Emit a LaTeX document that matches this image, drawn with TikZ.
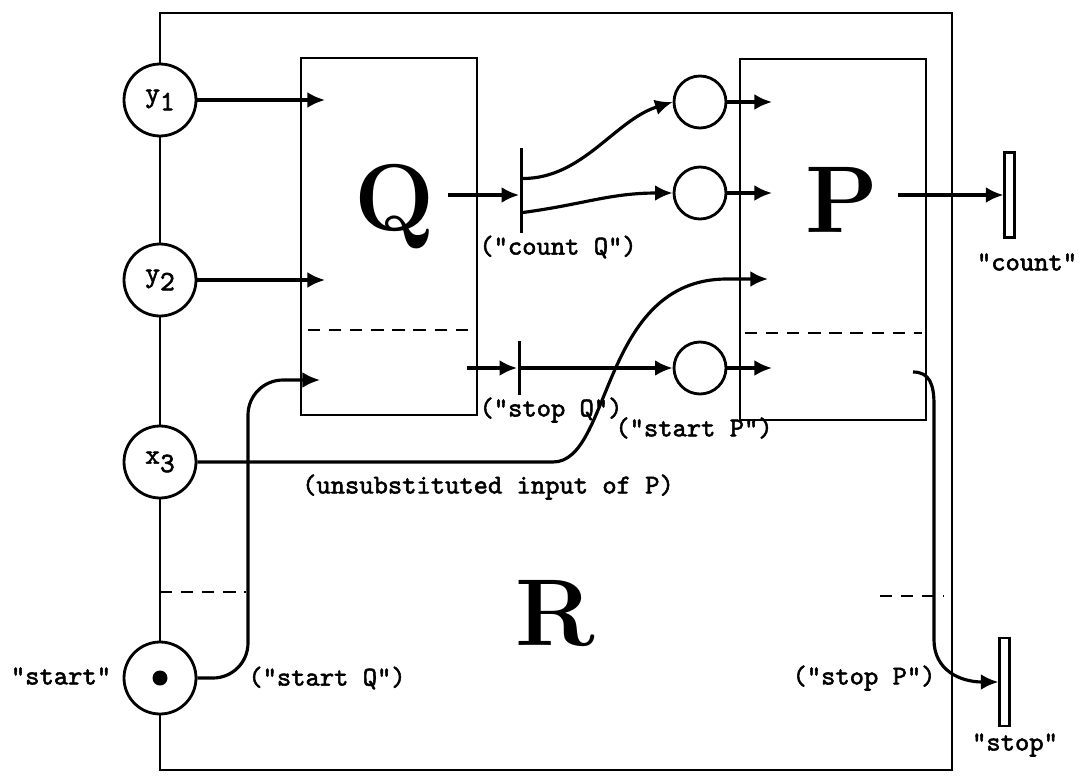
\documentclass[tikz,border=0pt]{standalone}
\usepackage{fontspec}
\setmonofont{lmmono10-regular.otf}[BoldFont=lmmono10-regular.otf, BoldFeatures={FakeBold=2}]
\usepackage{tikz}
\usetikzlibrary{arrows.meta}
\newcommand{\sub}[2]{#1\raisebox{-.7ex}{#2}}

\begin{document}
\begin{tikzpicture}[
      x=0.02cm, y=-0.02cm,
      frame/.style={line width=1.6pt},
      box/.style={draw, rectangle, line width=1.1pt, inner sep=0pt},
      var/.style={circle, draw, line width=1.6pt, minimum size=1.44cm, inner sep=0pt, font=\ttfamily\bfseries\fontsize{16}{18}\selectfont},
      place/.style={circle, draw, line width=1.6pt, minimum size=1.04cm, inner sep=0pt},
      tbar/.style={rectangle, fill=black, inner sep=0pt, minimum width=0.06cm},
      sink/.style={rectangle, draw, line width=1.2pt, inner sep=0pt, minimum width=0.2cm},
      lbl/.style={inner sep=0pt, font=\ttfamily\bfseries\fontsize{15.5}{18}\selectfont},
      big/.style={anchor=base, inner sep=0pt, font=\bfseries\fontsize{54}{60}\selectfont},
      arr/.style={-{Latex[length=10pt,width=9pt]}, line width=1.8pt},
      part/.style={line width=1.1pt, dash pattern=on 7pt off 5pt}
    ]
      \useasboundingbox (0,0) rectangle (1081,777);
      \node[var] (y1) at (160,100) {\sub{y}{1}};
      \node[var] (y2) at (160,280) {\sub{y}{2}};
      \node[var] (x3) at (160,462) {\sub{x}{3}};
      \node[var] (start) at (160,678) {};
      \fill (start) circle (0.15cm);
      \node[box, minimum width=3.52cm, minimum height=7.14cm] (qbox) at (389,236.5) {};
      \node[box, minimum width=3.72cm, minimum height=7.22cm] (pbox) at (833,239.5) {};
      \node[big] (qname) at (395,230) {Q};
      \node[big] (pname) at (842,232) {P};
      \node[big] (rname) at (555,645) {R};
      \node[tbar, minimum height=1.7cm] (cq) at (521,190.5) {};
      \node[tbar, minimum height=1.1cm] (sq) at (519,368) {};
      \node[place] (c1) at (700,102) {};
      \node[place] (c2) at (700,193) {};
      \node[place] (c3) at (700,368) {};
      \node[sink, minimum height=1.7cm] (count) at (1009.5,195) {};
      \node[sink, minimum height=1.76cm] (stop) at (1004.5,682) {};
      \coordinate (qin1) at (325,100);
      \coordinate (qin2) at (325,280);
      \coordinate (qin3) at (320,380);
      \coordinate (qout1) at (448,195);
      \coordinate (qout2) at (467,368);
      \coordinate (pin1) at (772,102);
      \coordinate (pin2) at (772,193);
      \coordinate (pin3) at (768,279);
      \coordinate (pin4) at (772,368);
      \coordinate (pout1) at (898,195);
      \coordinate (pout2) at (913,372);
      \draw[frame] (y1.north) -- (160,13) -- (952,13) -- (952,770) -- (160,770) -- (start.south);
      \draw[frame] (y1.south) -- (y2.north);
      \draw[frame] (y2.south) -- (x3.north);
      \draw[frame] (x3.south) -- (start.north);
      \draw[part] (308,330) -- (470,330);
      \draw[part] (745,333) -- (922,333);
      \draw[part] (160,592) -- (246,592);
      \draw[part] (880,596) -- (944,596);
      \draw[arr] (y1) -- (qin1);
      \draw[arr] (y2) -- (qin2);
      \draw[arr, rounded corners=0.7cm] (start) -| (248,380) -- (qin3);
      \draw[arr] (qout1) -- (qout1 -| cq.west);
      \draw[arr] (cq.east) ++(0,-12) .. controls +(60,0) and (615,120) .. (c1.west);
      \draw[arr] (cq.east) ++(0,22) .. controls +(60,-8) and (610,193) .. (c2.west);
      \draw[arr] (qout2) -- (qout2 -| sq.west);
      \draw[arr] (sq) -- (c3);
      \draw[arr] (c1) -- (pin1);
      \draw[arr] (c2) -- (pin2);
      \draw[arr] (c3) -- (pin4);
      \draw[arr] (x3) -- (553,462) .. controls (612,462) and (600,279) .. (727,279) -- (pin3);
      \draw[arr] (pout1) -- (pout1 -| count.west);
      \draw[arr] (pout2) .. controls (930,372) and (934,385) .. (934,405) -- (934,640) .. controls (934,670) and (960,682) .. (stop.west);
      \node[lbl] (lcq) at (558,247) {("count Q")};
      \node[lbl] (lsq) at (551,410) {("stop Q")};
      \node[lbl] (lsp) at (694,428) {("start P")};
      \node[lbl] (lun) at (488,487) {(unsubstituted input of P)};
      \node[lbl] (lstq) at (327,678) {("start Q")};
      \node[lbl] (lst) at (61,676) {"start"};
      \node[lbl] (lstp) at (864,678) {("stop P")};
      \node[lbl] (lcount) at (1027,262) {"count"};
      \node[lbl] (lstop) at (1015,745) {"stop"};
    \end{tikzpicture}
\end{document}
